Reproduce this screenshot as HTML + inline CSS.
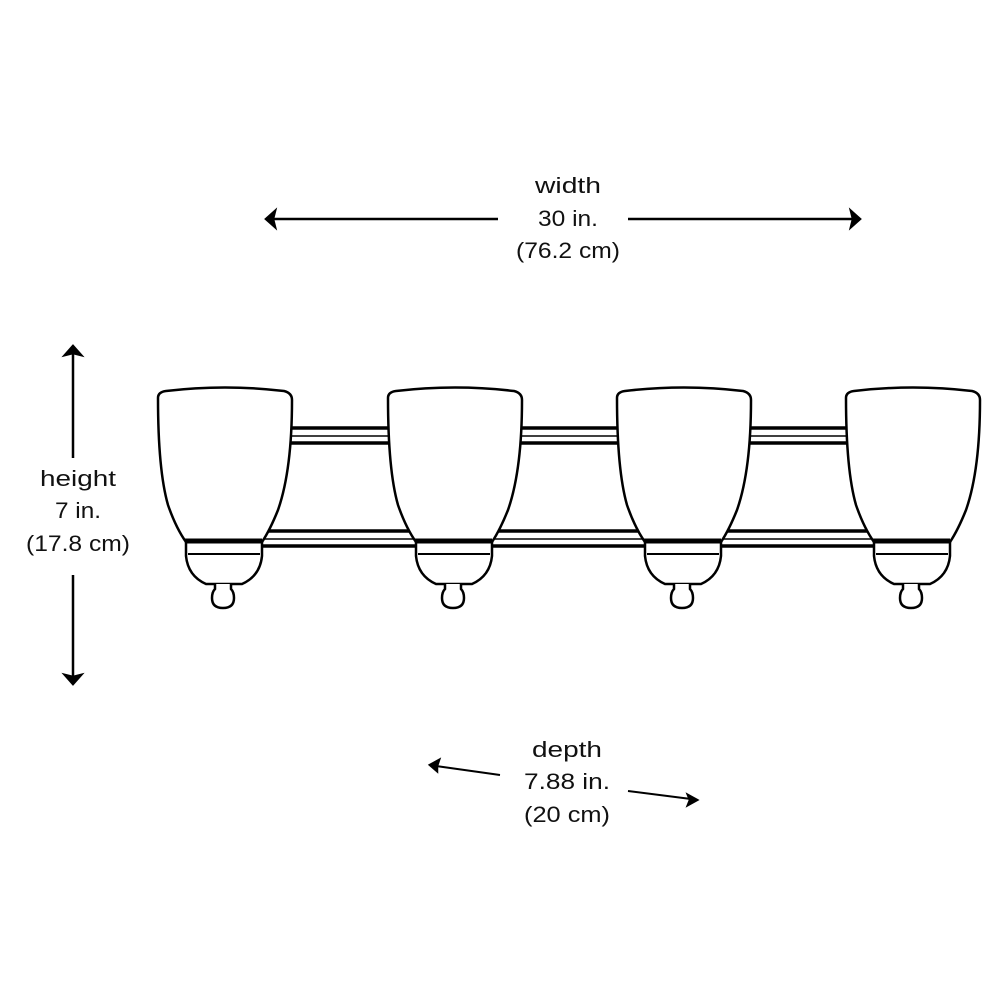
<!DOCTYPE html>
<html><head><style>
html,body{margin:0;padding:0;background:#fff;}
svg text{font-family:"Liberation Sans",sans-serif;font-size:22px;fill:#111;text-anchor:middle;}
</style></head><body>
<svg width="1000" height="1000" viewBox="0 0 1000 1000" xmlns="http://www.w3.org/2000/svg">
<defs>
<g id="lamp" fill="#fff" stroke="#000">
  <path d="M0,8 Q0,2 8,1 Q67,-6 126,1 Q134,3 134,10 Q134,80 120,120 Q112,140 104,152 L28,152 Q18,138 10,115 Q0,80 0,8 Z" stroke-width="2.5"/>
  <path d="M28,152 L104,152 L104,166 Q102,186 84,194 L48,194 Q30,186 28,166 Z" stroke-width="2.5"/>
  <path d="M27,151 L104,151" stroke-width="5"/>
  <path d="M30,164 L102,164" stroke-width="2"/>
  <path d="M57,194 L57,199 Q54,202 54,208 Q54,218 65,218 Q76,218 76,208 Q76,202 73,199 L73,194" stroke-width="2.5"/>
</g>
</defs>
<g stroke="#000">
  <g stroke-width="3.5">
    <line x1="290" y1="428" x2="848" y2="428"/>
    <line x1="290" y1="443" x2="848" y2="443"/>
    <line x1="255" y1="531" x2="880" y2="531"/>
    <line x1="255" y1="546" x2="880" y2="546"/>
  </g>
  <g stroke-width="1.5">
    <line x1="290" y1="436" x2="848" y2="436"/>
    <line x1="255" y1="539" x2="880" y2="539"/>
  </g>
</g>
<use href="#lamp" x="158" y="390"/>
<use href="#lamp" x="388" y="390"/>
<use href="#lamp" x="617" y="390"/>
<use href="#lamp" x="846" y="390"/>

<g stroke="#000" stroke-width="2.5" fill="#000">
  <line x1="272" y1="219" x2="498" y2="219"/>
  <path d="M266,219 L275,211 L273,219 L275,227 Z"/>
  <line x1="628" y1="219" x2="854" y2="219"/>
  <path d="M860,219 L851,211 L853,219 L851,227 Z"/>
  <line x1="73" y1="352" x2="73" y2="458"/>
  <path d="M73,346 L65,355 L73,353 L81,355 Z"/>
  <line x1="73" y1="575" x2="73" y2="678"/>
  <path d="M73,684 L65,675 L73,677 L81,675 Z"/>
  <line x1="500" y1="775" x2="436" y2="766" stroke-width="2"/>
  <path d="M430,765 L439,760 L437,766 L437,771 Z"/>
  <line x1="628" y1="791" x2="691" y2="799" stroke-width="2"/>
  <path d="M697,800 L688,795 L690,800 L688,805 Z"/>
</g>

<text x="568" y="193" textLength="66" lengthAdjust="spacingAndGlyphs">width</text>
<text x="568" y="226" textLength="60" lengthAdjust="spacingAndGlyphs">30 in.</text>
<text x="568" y="258" textLength="104" lengthAdjust="spacingAndGlyphs">(76.2 cm)</text>
<text x="78" y="486" textLength="76" lengthAdjust="spacingAndGlyphs">height</text>
<text x="78" y="518" textLength="46" lengthAdjust="spacingAndGlyphs">7 in.</text>
<text x="78" y="551" textLength="104" lengthAdjust="spacingAndGlyphs">(17.8 cm)</text>
<text x="567" y="757" textLength="70" lengthAdjust="spacingAndGlyphs">depth</text>
<text x="567" y="789" textLength="86" lengthAdjust="spacingAndGlyphs">7.88 in.</text>
<text x="567" y="822" textLength="86" lengthAdjust="spacingAndGlyphs">(20 cm)</text>
</svg>
</body></html>
